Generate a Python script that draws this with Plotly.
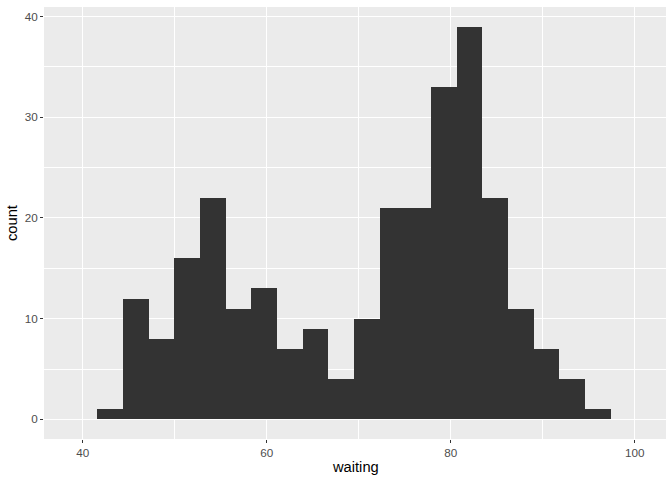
import plotly.graph_objects as go

# faithful$waiting histogram, 20 bins
bin_centers = [43 + i * (53 / 19) for i in range(20)]
bin_width = 53 / 19
counts = [1, 12, 8, 16, 22, 11, 13, 7, 9, 4, 10, 21, 21, 33, 39, 22, 11, 7, 4, 1]

x_ticks = [40, 60, 80, 100]
y_ticks = [0, 10, 20, 30, 40]

fig = go.Figure()
fig.add_trace(go.Bar(
    x=bin_centers, y=counts, width=[bin_width] * len(counts),
    marker=dict(color="#333333", line=dict(width=0)),
    hoverinfo="x+y", showlegend=False,
))

font = "Liberation Sans, Arial, sans-serif"
axis_common = dict(
    showgrid=True, gridcolor="white", gridwidth=1.1,
    zeroline=False, showline=False, automargin=False,
    ticks="outside", ticklen=3, tickwidth=1, tickcolor="#333333",
    tickfont=dict(family=font, size=11.7, color="#4D4D4D"),
)
fig.update_layout(
    width=672, height=480,
    margin=dict(l=44, r=6, t=7, b=41),
    paper_bgcolor="white", plot_bgcolor="#EBEBEB",
    bargap=0,
    font=dict(family=font),
    xaxis=dict(
        range=[35.8, 103.4], tickvals=x_ticks, ticktext=[str(v) for v in x_ticks],
        minor=dict(tickvals=[50, 70, 90], showgrid=True, gridcolor="white", gridwidth=0.5, ticks=""),
        **axis_common,
    ),
    yaxis=dict(
        range=[-1.95, 40.95], tickvals=y_ticks, ticktext=[str(v) for v in y_ticks],
        minor=dict(tickvals=[5, 15, 25, 35], showgrid=True, gridcolor="white", gridwidth=0.5, ticks=""),
        **axis_common,
    ),
    annotations=[
        dict(text="waiting", xref="paper", yref="paper", x=0.5, y=0, yshift=-18,
             xanchor="center", yanchor="top", showarrow=False,
             font=dict(family=font, size=14.7, color="black")),
        dict(text="count", xref="paper", yref="paper", x=0, y=0.5, xshift=-22,
             xanchor="right", yanchor="middle", textangle=-90, showarrow=False,
             font=dict(family=font, size=14.7, color="black")),
    ],
)
fig.write_html("out.html", config={"displayModeBar": False},
               post_script="document.body.style.margin='0';document.body.style.overflow='hidden';")
